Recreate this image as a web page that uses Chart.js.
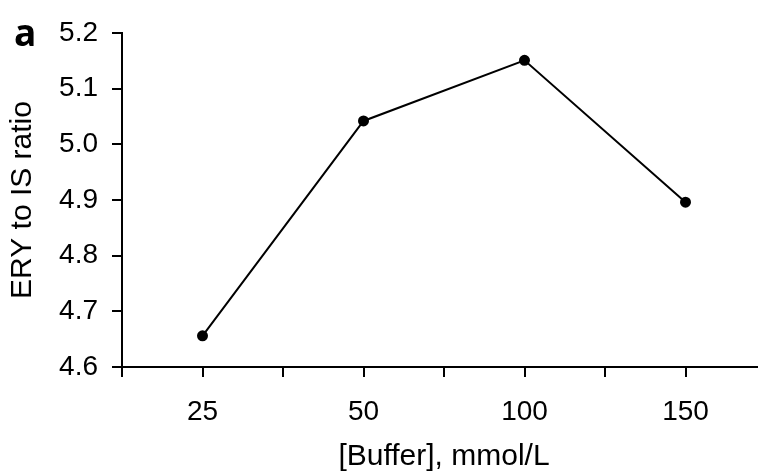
<!DOCTYPE html>
<html>
<head>
<meta charset="utf-8">
<script src="https://cdn.jsdelivr.net/npm/chart.js@4"></script>
<style>
  html, body { margin: 0; padding: 0; background: #fff; }
  #wrap { position: relative; width: 758px; height: 475px; overflow: hidden; }
  #box { position: absolute; left: 0; top: 0; width: 790px; height: 475px; }
  #tag { position: absolute; left: 14px; top: 6px; font: bold 37px "Open Sans", "Liberation Sans", sans-serif; color: #000; }
</style>
</head>
<body>
<div id="wrap">
  <div id="box"><canvas id="myChart" width="790" height="475"></canvas></div>
  <div id="tag">a</div>
</div>
<script>
// buffer concentrations on the x axis
var buffers = ["25", "50", "100", "150"];
// ERY / IS peak ratio
var ratios = [4.656, 5.042, 5.151, 4.896];
var yTicks = [4.6, 4.7, 4.8, 4.9, 5.0, 5.1, 5.2];

var pts = [];
for (var i = 0; i < buffers.length; i++) {
	pts.push({ x: i, y: ratios[i] });
}

var font = { family: "'Liberation Sans', Arial, sans-serif", size: 28 };
var titleFont = { family: "'Liberation Sans', Arial, sans-serif", size: 30 };

new Chart(document.getElementById('myChart'), {
	type: "line",
	data: {
		datasets: [{
			data: pts,
			borderColor: "#000",
			backgroundColor: "#000",
			borderWidth: 2,
			pointRadius: 4.5,
			pointHoverRadius: 4.5,
			fill: false,
			tension: 0
		}]
	},
	options: {
		responsive: false,
		animation: false,
		devicePixelRatio: 1,
		layout: { padding: { top: 33, left: 0, right: 24, bottom: 0 } },
		plugins: { legend: { display: false }, tooltip: { enabled: false } },
		scales: {
			x: {
				type: "linear",
				min: -0.5,
				max: buffers.length - 0.5,
				border: { display: true, color: "#000", width: 2 },
				grid: { drawOnChartArea: false, drawTicks: true, tickLength: 10, color: "#000", lineWidth: 2 },
				ticks: {
					stepSize: 0.5,
					autoSkip: false,
					maxRotation: 0,
					color: "#000",
					font: font,
					padding: 18,
					callback: function (v) {
						return Number.isInteger(v) ? buffers[v] : "";
					}
				},
				title: { display: true, text: "[Buffer], mmol/L", color: "#000", font: titleFont, padding: { top: 0, bottom: 0 } },
				afterFit: function (s) { s.height = 108; }
			},
			y: {
				min: yTicks[0],
				max: yTicks[yTicks.length - 1],
				border: { display: true, color: "#000", width: 2 },
				grid: { drawOnChartArea: false, drawTicks: true, tickLength: 10, color: "#000", lineWidth: 2 },
				ticks: {
					stepSize: 0.1,
					color: "#000",
					font: font,
					padding: 14,
					callback: function (v) { return v.toFixed(1); }
				},
				title: { display: true, text: "ERY to IS ratio", color: "#000", font: titleFont, padding: { top: 5, bottom: 0 } },
				afterFit: function (s) { s.width = 122; }
			}
		}
	}
});
</script>
</body>
</html>
